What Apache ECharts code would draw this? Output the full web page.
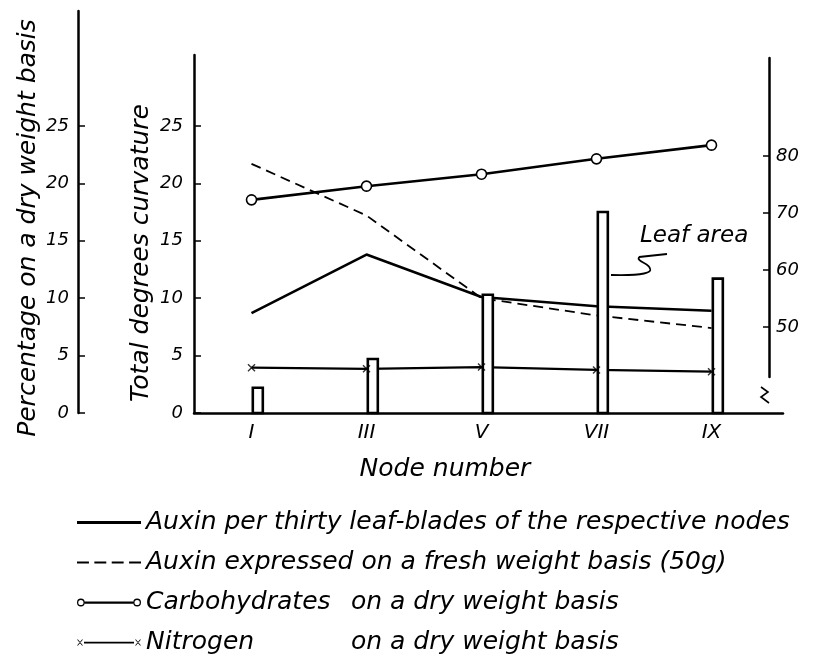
<!DOCTYPE html>
<html>
<head>
<meta charset="utf-8">
<script src="https://cdn.jsdelivr.net/npm/echarts@6/dist/echarts.min.js"></script>
<style>
  html, body { margin: 0; padding: 0; background: #fff; }
  #chart { width: 814px; height: 657px; }
</style>
</head>
<body>
<div id="chart"></div>
<script>
// node numbers along the stem and their roman labels
const nodes = [1, 3, 5, 7, 9]
const nodeLabels = ['I', 'III', 'V', 'VII', 'IX']

// total degrees curvature
const auxinPerLeaves = [8.7, 13.8, 10.1, 9.3, 8.9]
const auxinFreshWeight = [21.7, 17.2, 10.0, 8.5, 7.4]
// percentage on a dry weight basis
const carbohydrates = [72.3, 74.7, 76.8, 79.5, 81.9]
const nitrogen = [3.95, 3.85, 4.0, 3.75, 3.6]
// leaf area (relative, drawn against the curvature scale)
const leafArea = [2.2, 4.7, 10.3, 17.5, 11.7]

const leftTicks = [0, 5, 10, 15, 20, 25]
const rightTicks = [50, 60, 70, 80]

const FONT = "'DejaVu Sans', sans-serif"
const ink = '#000'

const pairs = (ys) => nodes.map((n, i) => [n, ys[i]])

const names = {
  perLeaves: 'Auxin per thirty leaf-blades of the respective nodes',
  fresh: 'Auxin expressed on a fresh weight basis (50g)',
  carbo: 'Carbohydrates on a dry weight basis',
  nitro: 'Nitrogen on a dry weight basis'
}

const tickLabel = {
  fontFamily: FONT,
  fontStyle: 'italic',
  fontSize: 18,
  color: ink
}

const titleText = (pad) => ({
  fontFamily: FONT,
  fontStyle: 'italic',
  fontSize: 25,
  color: ink,
  padding: pad
})

const chart = echarts.init(document.getElementById('chart'))

const option = {
  animation: false,
  backgroundColor: '#fff',
  color: [ink],
  grid: [
    { left: 194, top: 55, width: 589, height: 358 },
    { left: 194, top: 11, width: 589, height: 402 },
    { left: 194, top: 58, width: 575, height: 319 }
  ],
  xAxis: [
    {
      gridIndex: 0,
      type: 'value',
      min: 0,
      max: 10.243,
      splitLine: { show: false },
      axisTick: { show: false },
      axisLine: { onZero: false, lineStyle: { color: ink, width: 2.5 } },
      axisLabel: {
        ...tickLabel,
        fontSize: 20,
        margin: 10,
        customValues: nodes,
        formatter: (v) => nodeLabels[nodes.indexOf(v)] || ''
      },
      name: 'Node number',
      nameLocation: 'middle',
      nameGap: 44,
      nameMoveOverlap: false,
      nameTextStyle: titleText([0, 87, 0, 0])
    },
    { gridIndex: 1, type: 'value', min: 0, max: 10.243, show: false },
    { gridIndex: 2, type: 'value', min: 0, max: 10, show: false }
  ],
  yAxis: [
    {
      gridIndex: 0,
      type: 'value',
      min: 0,
      max: 31.18,
      splitLine: { show: false },
      axisLine: { show: true, onZero: false, lineStyle: { color: ink, width: 2.5 } },
      axisTick: {
        show: true,
        inside: true,
        length: 7,
        lineStyle: { color: ink, width: 1.5 },
        customValues: leftTicks
      },
      axisLabel: { ...tickLabel, margin: 11, customValues: leftTicks },
      name: 'Total degrees curvature',
      nameLocation: 'middle',
      nameGap: 40,
      nameMoveOverlap: false,
      nameTextStyle: titleText([0, 38, 0, 0])
    },
    {
      gridIndex: 1,
      type: 'value',
      min: 0,
      max: 35.02,
      offset: 116,
      splitLine: { show: false },
      axisLine: { show: true, onZero: false, lineStyle: { color: ink, width: 2.5 } },
      axisTick: {
        show: true,
        inside: true,
        length: 7,
        lineStyle: { color: ink, width: 1.5 },
        customValues: leftTicks
      },
      axisLabel: { ...tickLabel, margin: 9, customValues: leftTicks },
      name: 'Percentage on a dry weight basis',
      nameLocation: 'middle',
      nameGap: 37,
      nameMoveOverlap: false,
      nameTextStyle: titleText([0, 32, 0, 0])
    },
    {
      gridIndex: 2,
      type: 'value',
      position: 'right',
      min: 41.2,
      max: 97.2,
      splitLine: { show: false },
      axisLine: { show: true, onZero: false, lineStyle: { color: ink, width: 2.5 } },
      axisTick: {
        show: true,
        inside: true,
        length: 6,
        lineStyle: { color: ink, width: 1.5 },
        customValues: rightTicks
      },
      axisLabel: { ...tickLabel, margin: 7, customValues: rightTicks }
    }
  ],
  legend: {
    orient: 'vertical',
    left: 77,
    top: 510,
    height: 150,
    padding: 0,
    itemWidth: 64,
    itemHeight: 10,
    itemGap: 15,
    selectedMode: false,
    textStyle: {
      fontFamily: FONT,
      fontStyle: 'italic',
      fontSize: 25,
      color: ink,
      rich: {
        a: { fontFamily: FONT, fontStyle: 'italic', fontSize: 25, color: ink, width: 205 },
        b: { fontFamily: FONT, fontStyle: 'italic', fontSize: 25, color: ink }
      }
    },
    formatter: (name) => {
      const cut = name.indexOf(' on a dry')
      if (cut < 0) return name
      return '{a|' + name.slice(0, cut) + '}{b|' + name.slice(cut + 1) + '}'
    },
    data: [
      {
        name: names.perLeaves,
        icon: 'path://M0,0h58v2.5h-58z',
        itemStyle: { color: ink, borderWidth: 0 }
      },
      {
        name: names.fresh,
        icon: 'path://M0,0h11v2h-11z M16,0h11v2h-11z M32,0h11v2h-11z M48,0h11v2h-11z',
        itemStyle: { color: ink, borderWidth: 0 }
      },
      {
        name: names.carbo,
        icon:
          'path://M0,4a4,4 0 1,0 8,0a4,4 0 1,0 -8,0z M1.3,4a2.7,2.7 0 1,1 5.4,0a2.7,2.7 0 1,1 -5.4,0z ' +
          'M8,3h50v2.2h-50z ' +
          'M58,4a4,4 0 1,0 8,0a4,4 0 1,0 -8,0z M59.3,4a2.7,2.7 0 1,1 5.4,0a2.7,2.7 0 1,1 -5.4,0z',
        itemStyle: { color: ink, borderWidth: 0 }
      },
      {
        name: names.nitro,
        icon:
          'path://M0,0L1,0L6,6L5,6Z M5,0L6,0L1,6L0,6Z ' +
          'M7,2.3h50v1.6h-50z ' +
          'M58,0L59,0L64,6L63,6Z M63,0L64,0L59,6L58,6Z',
        itemStyle: { color: ink, borderWidth: 0 }
      }
    ]
  },
  graphic: [
    {
      // "Leaf area" note with its curly leader to the bar at node VII
      type: 'text',
      left: 640,
      top: 225,
      style: {
        text: 'Leaf area',
        font: "italic 23px 'DejaVu Sans', sans-serif",
        fill: ink
      }
    },
    {
      type: 'bezierCurve',
      shape: { x1: 611, y1: 275, x2: 650, y2: 269, cpx1: 645, cpy1: 276, cpx2: 652, cpy2: 272 },
      style: { stroke: ink, lineWidth: 1.8, fill: 'none' }
    },
    {
      type: 'bezierCurve',
      shape: { x1: 650, y1: 269, x2: 639, y2: 257, cpx1: 650, cpy1: 263, cpx2: 636, cpy2: 262 },
      style: { stroke: ink, lineWidth: 1.8, fill: 'none' }
    },
    {
      type: 'line',
      shape: { x1: 639, y1: 257, x2: 667, y2: 254 },
      style: { stroke: ink, lineWidth: 1.8 }
    },
    {
      // axis break mark under the right-hand scale
      type: 'polyline',
      shape: { points: [[761, 387], [768, 392], [761, 397], [769, 403]] },
      style: { stroke: ink, lineWidth: 1.6, fill: 'none' }
    }
  ],
  series: [
    {
      name: names.perLeaves,
      type: 'line',
      xAxisIndex: 0,
      yAxisIndex: 0,
      symbol: 'none',
      z: 2,
      lineStyle: { color: ink, width: 2.6 },
      data: pairs(auxinPerLeaves)
    },
    {
      name: names.fresh,
      type: 'line',
      xAxisIndex: 0,
      yAxisIndex: 0,
      symbol: 'none',
      z: 2,
      lineStyle: { color: ink, width: 1.8, type: [10, 6] },
      data: pairs(auxinFreshWeight)
    },
    {
      name: names.carbo,
      type: 'line',
      xAxisIndex: 2,
      yAxisIndex: 2,
      symbol: 'circle',
      symbolSize: 10,
      z: 2,
      itemStyle: { color: '#fff', borderColor: ink, borderWidth: 1.6 },
      lineStyle: { color: ink, width: 2.6 },
      data: pairs(carbohydrates)
    },
    {
      name: names.nitro,
      type: 'line',
      xAxisIndex: 1,
      yAxisIndex: 1,
      symbol: 'none',
      z: 2,
      lineStyle: { color: ink, width: 2.2 },
      data: pairs(nitrogen)
    },
    {
      name: 'Leaf area',
      type: 'custom',
      xAxisIndex: 0,
      yAxisIndex: 0,
      z: 3,
      data: pairs(leafArea),
      renderItem: (params, api) => {
        const base = api.coord([api.value(0), 0])
        const top = api.coord([api.value(0), api.value(1)])
        return {
          type: 'rect',
          shape: { x: base[0] + 1.3, y: top[1], width: 10, height: base[1] - top[1] },
          style: { fill: '#fff', stroke: ink, lineWidth: 2.6 }
        }
      }
    },
    {
      name: 'Nitrogen marks',
      type: 'scatter',
      xAxisIndex: 1,
      yAxisIndex: 1,
      z: 4,
      symbol: 'path://M0,0L10,10M10,0L0,10',
      symbolSize: 7,
      itemStyle: { color: 'none', borderColor: ink, borderWidth: 1.4 },
      data: pairs(nitrogen)
    }
  ]
}

chart.setOption(option)
</script>
</body>
</html>
